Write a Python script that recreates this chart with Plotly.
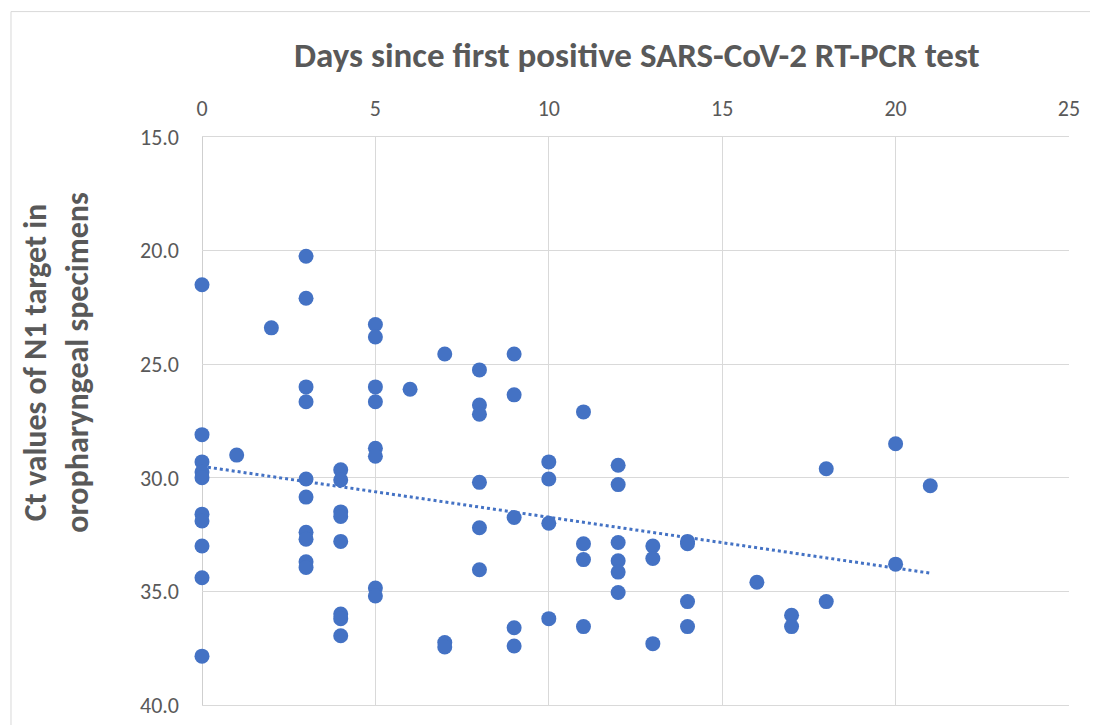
import numpy as np
import plotly.graph_objects as go

# Days since first positive test (x) and Ct values (y)
days = [0, 0, 0, 0, 0, 0, 0, 0, 0, 0,
        1, 2,
        3, 3, 3, 3, 3, 3, 3, 3, 3, 3,
        4, 4, 4, 4, 4, 4, 4, 4,
        5, 5, 5, 5, 5, 5, 5, 5,
        6,
        7, 7, 7,
        8, 8, 8, 8, 8, 8,
        9, 9, 9, 9, 9,
        10, 10, 10, 10,
        11, 11, 11, 11,
        12, 12, 12, 12, 12, 12,
        13, 13, 13,
        14, 14, 14, 14,
        16, 17, 17, 18, 18, 20, 20, 21]
ct = [21.5, 28.1, 29.3, 29.75, 30.0, 31.6, 31.9, 33.0, 34.4, 37.85,
      29.0, 23.4,
      20.25, 22.1, 26.0, 26.65, 30.05, 30.85, 32.4, 32.7, 33.7, 33.95,
      29.65, 30.1, 31.5, 31.7, 32.8, 36.0, 36.2, 36.95,
      23.25, 23.8, 26.0, 26.65, 28.7, 29.05, 34.85, 35.2,
      26.1,
      24.55, 37.25, 37.45,
      25.25, 26.8, 27.2, 30.2, 32.2, 34.05,
      24.55, 26.35, 31.75, 36.6, 37.4,
      29.3, 30.05, 32.0, 36.2,
      27.1, 32.9, 33.6, 36.55,
      29.45, 30.3, 32.85, 33.65, 34.15, 35.05,
      33.0, 33.55, 37.3,
      32.8, 32.9, 35.45, 36.55,
      34.6, 36.05, 36.55, 29.6, 35.45, 28.5, 33.8, 30.35]

x_ticks = [0, 5, 10, 15, 20, 25]
y_ticks = [15, 20, 25, 30, 35, 40]

slope, intercept = np.polyfit(days, ct, 1)
trend_x = [min(days), max(days)]
trend_y = [intercept + slope * v for v in trend_x]

blue = "#4472C4"
grey_text = "#595959"
grid = "#d9d9d9"
FONT = "Calibri, Carlito, Lato, 'Open Sans', sans-serif"

fig = go.Figure()
fig.add_trace(go.Scatter(x=trend_x, y=trend_y, mode="lines",
                         line=dict(color=blue, width=3, dash="dot"),
                         hoverinfo="skip", showlegend=False, cliponaxis=False))
fig.add_trace(go.Scatter(x=days, y=ct, mode="markers",
                         marker=dict(color=blue, size=15, line=dict(width=0)),
                         showlegend=False, cliponaxis=False))

# page body has an 8px margin, so the figure is 8px smaller on each axis
fig.update_layout(
    width=1090, height=717,
    margin=dict(l=194, r=29, t=129, b=20, autoexpand=False),
    paper_bgcolor="white", plot_bgcolor="white",
    font=dict(family=FONT, color=grey_text, size=22),
    xaxis=dict(side="top", range=[0, 25], tickvals=x_ticks, showgrid=True,
               gridcolor=grid, gridwidth=1, zeroline=False, showline=True,
               linecolor=grid, mirror=True, ticks="", ticklabelstandoff=11,
               automargin=False, tickfont=dict(size=22, color=grey_text)),
    yaxis=dict(range=[40, 15], tickvals=y_ticks, tickformat=".1f", showgrid=True,
               gridcolor=grid, gridwidth=1, zeroline=False, showline=False,
               ticks="", ticklabelstandoff=22, automargin=False,
               tickfont=dict(size=22, color=grey_text)),
    shapes=[
        dict(type="line", xref="x", yref="paper", x0=0, x1=0, y0=0, y1=1,
             line=dict(color="#bfbfbf", width=1.5), layer="below"),
        dict(type="rect", xref="paper", yref="paper", x0=-0.2203, x1=1.3,
             y0=-0.3, y1=1.2208, line=dict(color=grid, width=1),
             fillcolor="rgba(0,0,0,0)", layer="below"),
    ],
    annotations=[
        dict(text="<b>Days since first positive SARS-CoV-2 RT-PCR test</b>",
             xref="paper", yref="paper", x=0.502, y=1.145, xanchor="center",
             yanchor="middle", showarrow=False,
             font=dict(size=35, color=grey_text, family=FONT)),
        dict(text="<b>Ct values of N1 target in<br>oropharyngeal specimens</b>",
             xref="paper", yref="paper", x=-0.1672, y=0.6025, xanchor="center",
             yanchor="middle", showarrow=False, textangle=-90,
             font=dict(size=32, color=grey_text, family=FONT)),
    ],
)

fig.write_html("out.html")
